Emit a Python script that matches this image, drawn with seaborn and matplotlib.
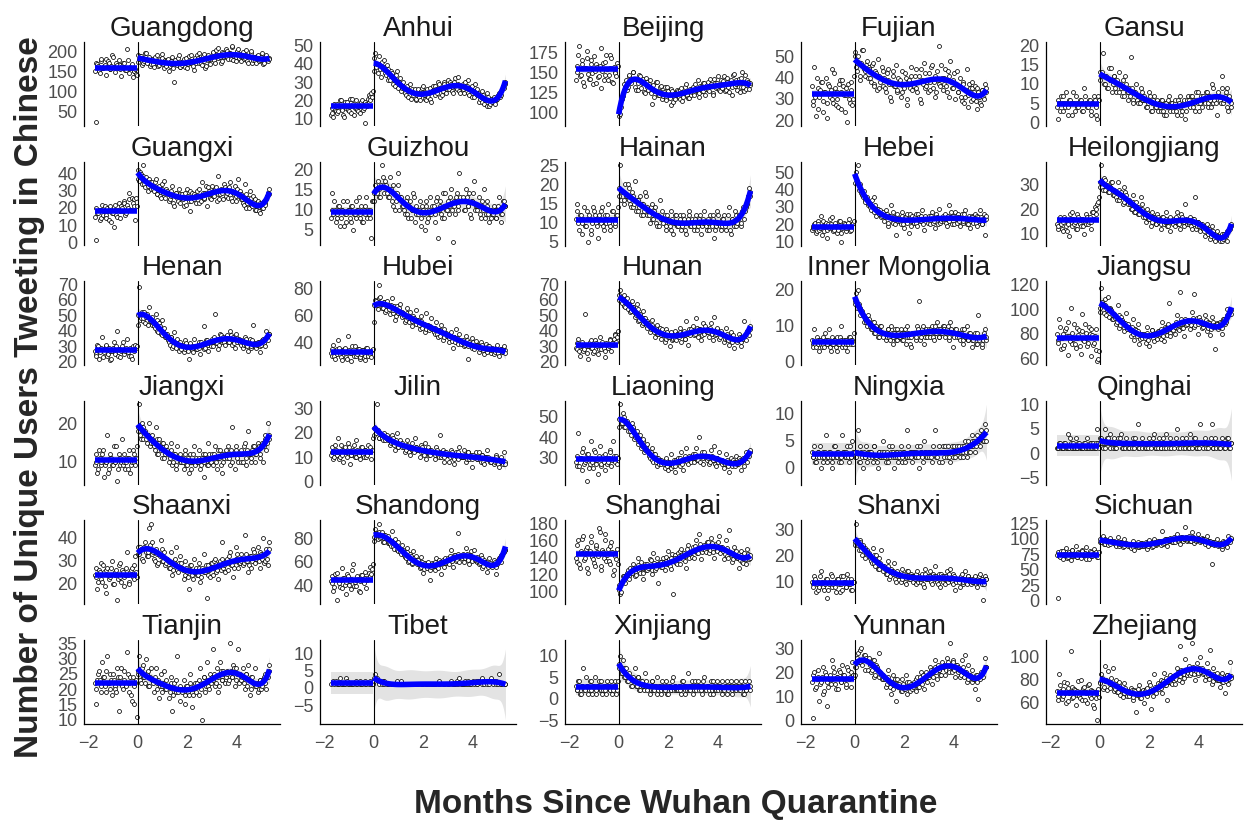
import numpy as np
import pandas as pd
import matplotlib
matplotlib.use("Agg")
import matplotlib.pyplot as plt
import seaborn as sns

# Daily counts of unique users tweeting in Chinese.
# Arrays without suffix hold one set of alternate days, the "_B" arrays the other set.
DAYS_PER_MONTH = 30.0
PRE_DAYS = np.arange(-51, 0, 2)      # before the Wuhan quarantine (23 Jan 2020)
PRE_DAYS_B = np.arange(-52, 0, 2)
POST_DAYS = np.arange(0, 162, 2)     # from the quarantine onwards
POST_DAYS_B = np.arange(1, 161, 2)
N = None  # day with no users

GUANGDONG_PRE = [22, 168, 150, 175, 158, 162, 181, 160, 170, 155, 192, 160, 160, 166, 178, 155,
                 163, 172, 152, 205, 158, 158, 168, 150, 155, 140]
GUANGDONG_PRE_B = [150, 172, 163, 145, 180, 158, 167, 140, 176, 155, 162, 185, 148, 170, 157, 165,
                   138, 172, 160, 152, 178, 145, 163, 135, 150, 144]
GUANGDONG_POST = [192, 180, 188, 170, 176, 195, 179, 186, 168,
                  182, 160, 176, 190, 165, 171, 184, 158, 175,
                  178, 150, 169, 185, 122, 172, 166, 190, 160,
                  165, 181, 172, 158, 188, 170, 176, 152, 184,
                  190, 172, 182, 165, 194, 158, 186, 178, 168,
                  180, 198, 170, 192, 208, 185, 176, 196, 188,
                  200, 182, 195, 210, 178, 193, 186, 205, 188,
                  176, 198, 184, 192, 170, 188, 200, 178, 185,
                  172, 190, 178, 186, 168, 182, 192, 175, 181]
GUANGDONG_POST_B = [174, 189, 166, 183, 197, 171, 180, 163, 177,
                    168, 185, 172, 162, 180, 194, 169, 178, 164,
                    181, 163, 175, 158, 179, 168, 184, 161, 173,
                    177, 160, 183, 168, 175, 190, 162, 178, 171,
                    183, 195, 170, 188, 176, 162, 192, 181, 187,
                    196, 178, 203, 184, 190, 172, 199, 186, 205,
                    185, 197, 180, 214, 189, 176, 200, 183, 194,
                    192, 180, 203, 175, 189, 197, 171, 186, 179,
                    188, 176, 183, 195, 170, 186, 178, 184]

ANHUI_PRE = [13, 11, 15, 18, 14, 20, 16, 12, 19, 17, 15, 21, 13, 18, 16, 20,
             14, 17, 19, 15, 8, 18, 21, 22, 24, 25]
ANHUI_PRE_B = [12, 16, 18, 14, 13, 17, 20, 15, 11, 16, 19, 14, 17, 21, 12, 16,
               15, 18, 13, 20, 16, 19, 17, 23, 20, 22]
ANHUI_POST = [36, 46, 40, 44, 37, 41, 38, 35, 39,
              37, 31, 35, 33, 28, 36, 30, 32, 27,
              30, 24, 27, 22, 29, 25, 23, 26, 21,
              26, 20, 24, 28, 21, 25, 22, 27, 19,
              28, 23, 26, 30, 22, 27, 25, 29, 24,
              31, 26, 29, 24, 30, 27, 33, 25, 28,
              29, 24, 27, 31, 23, 26, 28, 22, 25,
              26, 19, 22, 25, 18, 21, 24, 17, 20,
              19, 22, 20, 21, 24, 23, 26, 27, 30]
ANHUI_POST_B = [43, 38, 35, 40, 33, 37, 42, 34, 31,
                33, 36, 29, 31, 34, 27, 30, 25, 29,
                27, 23, 28, 25, 21, 26, 24, 20, 23,
                22, 25, 27, 23, 20, 26, 24, 21, 25,
                25, 28, 24, 29, 26, 23, 30, 27, 26,
                27, 30, 25, 28, 32, 26, 29, 24, 27,
                26, 30, 28, 24, 27, 22, 25, 29, 23,
                24, 21, 19, 23, 20, 17, 22, 18, 21,
                20, 18, 21, 23, 22, 25, 28, 29]

BEIJING_PRE = [150, 172, 145, 160, 138, 155, 168, 148, 142, 165, 135, 152, 160, 144, 158, 130,
               162, 147, 172, 140, 155, 168, 136, 150, 145, 158]
BEIJING_PRE_B = [140, 158, 183, 147, 165, 133, 155, 176, 142, 160, 149, 170, 137, 156, 145, 180,
                 151, 140, 163, 154, 147, 171, 138, 157, 149, 162]
BEIJING_POST = [104, 98, 116, 128, 132, 128, 145, 138, 142,
                150, 132, 140, 128, 145, 136, 142, 124, 138,
                128, 140, 110, 134, 126, 138, 122, 131, 125,
                120, 132, 115, 126, 118, 129, 112, 124, 121,
                126, 116, 130, 119, 124, 135, 118, 127, 122,
                132, 121, 128, 140, 124, 131, 126, 136, 129,
                138, 127, 135, 124, 142, 130, 136, 128, 140,
                130, 145, 128, 138, 125, 140, 132, 148, 135,
                128, 142, 131, 150, 126, 137, 140, 129, 136]
BEIJING_POST_B = [95, 106, 120, 135, 140, 132, 147, 136, 150,
                  141, 128, 137, 146, 130, 139, 125, 143, 131,
                  135, 124, 131, 119, 138, 127, 121, 133, 116,
                  125, 117, 131, 122, 109, 127, 120, 116, 128,
                  119, 128, 114, 124, 132, 121, 117, 129, 125,
                  124, 135, 128, 119, 133, 127, 137, 122, 134,
                  128, 141, 133, 122, 137, 131, 145, 126, 135,
                  139, 126, 143, 131, 137, 122, 146, 133, 140,
                  137, 125, 143, 132, 146, 129, 138, 134]

FUJIAN_PRE = [29, 45, 22, 35, 31, 38, 24, 33, 40, 28, 36, 34, 30, 42, 27, 33,
              37, 25, 39, 32, 35, 19, 30, 38, 27, 41]
FUJIAN_PRE_B = [36, 27, 31, 40, 25, 34, 38, 29, 33, 21, 37, 31, 44, 28, 35, 30,
                26, 39, 33, 36, 24, 32, 37, 28, 34, 30]
FUJIAN_POST = [52, 45, 50, 41, 47, 53, 43, 46, 40,
               44, 38, 47, 36, 42, 49, 35, 40, 43,
               40, 33, 44, 37, 29, 41, 36, 46, 34,
               38, 31, 43, 35, 40, 27, 39, 45, 34,
               36, 44, 33, 41, 28, 39, 47, 35, 38,
               42, 34, 46, 38, 31, 43, 55, 36, 40,
               37, 44, 33, 41, 48, 35, 39, 30, 43,
               33, 40, 29, 37, 31, 44, 26, 35, 38,
               30, 36, 25, 33, 28, 34, 31, 37, 35]
FUJIAN_POST_B = [50, 43, 47, 39, 53, 44, 41, 48, 45,
                 40, 46, 37, 43, 34, 41, 38, 45, 36,
                 35, 42, 39, 31, 37, 43, 36, 33, 40,
                 39, 33, 36, 42, 30, 38, 35, 41, 37,
                 41, 35, 38, 30, 44, 37, 42, 36, 33,
                 38, 45, 35, 41, 33, 39, 37, 46, 34,
                 40, 36, 43, 31, 38, 35, 42, 37, 33,
                 36, 31, 38, 28, 34, 32, 37, 29, 35,
                 33, 29, 35, 31, 27, 34, 30, 33]

GANSU_PRE = [1, 5, 7, 3, 5, 8, 4, 6, 5, 2, 5, 7, 4, 5, 6, 3, 9, 5, 4, 6, 3, 5, 7, 2, 1, 6]
GANSU_PRE_B = [4, 6, 3, 5, 7, 4, 5, 2, 6, 5, 8, 3, 5, 4, 6, 5, 3, 7, 5, 4, 6, 2, 5, 6, 4, 7]
GANSU_POST = [13, 12, 18, 10, 12, 9, 11, 14, 10,
              12, 8, 10, 13, 9, 11, 7, 10, 8,
              9, 17, 6, 8, 10, 5, 7, 9, 6,
              7, 4, 6, 8, 3, 5, 7, 4, 6,
              5, 3, 6, 2, 5, 4, 7, 3, 5,
              4, 6, 2, 5, 7, 3, 5, 1, 6,
              6, 4, 7, 5, 3, 6, 8, 5, 4,
              7, 5, 8, 4, 6, 10, 5, 7, 2,
              8, 6, 12, 5, 7, 9, 3, 6, 4]
GANSU_POST_B = [11, 13, 10, 12, 9, 14, 11, 8, 12,
                9, 11, 8, 10, 7, 9, 12, 8, 6,
                7, 9, 5, 8, 6, 7, 5, 8, 6,
                6, 4, 5, 7, 3, 6, 4, 5, 3,
                4, 6, 3, 5, 2, 6, 4, 5, 3,
                5, 3, 6, 4, 2, 5, 6, 3, 7,
                5, 7, 4, 6, 8, 5, 3, 7, 6,
                6, 8, 5, 7, 4, 9, 6, 5, 7,
                7, 5, 9, 6, 8, 4, 7, 5]

GUANGXI_PRE = [1, 17, 19, 14, 22, 18, 16, 20, 13, 21, 17, 9, 19, 15, 23, 18,
               20, 24, 16, 22, 29, 19, 26, 25, 13, 21]
GUANGXI_PRE_B = [15, 20, 17, 13, 19, 16, 21, 14, 18, 20, 12, 17, 22, 16, 19, 14,
                 21, 18, 23, 17, 20, 25, 19, 23, 21, 26]
GUANGXI_POST = [42, 36, 40, 45, 34, 38, 33, 37, 31,
                35, 30, 37, 28, 33, 26, 31, 36, 29,
                30, 24, 27, 33, 21, 29, 26, 31, 23,
                28, 21, 26, 31, 24, 18, 29, 25, 27,
                30, 23, 27, 35, 25, 29, 21, 32, 26,
                33, 27, 31, 24, 39, 28, 30, 25, 32,
                31, 26, 35, 24, 29, 33, 27, 37, 30,
                28, 23, 34, 20, 26, 30, 22, 27, 25,
                19, 24, 17, 21, 20, 23, 25, 29, 31]
GUANGXI_POST_B = [37, 41, 34, 39, 32, 36, 30, 35, 33,
                  31, 35, 28, 32, 27, 34, 29, 26, 31,
                  28, 25, 30, 23, 27, 29, 24, 28, 26,
                  25, 29, 22, 27, 30, 24, 26, 28, 23,
                  27, 31, 24, 29, 26, 33, 28, 30, 25,
                  30, 27, 32, 28, 25, 31, 29, 34, 27,
                  29, 32, 26, 30, 28, 24, 31, 27, 25,
                  25, 22, 28, 23, 20, 26, 21, 24, 19,
                  21, 18, 23, 20, 24, 22, 27, 28]

GUIZHOU_PRE = [14, 9, 10, 8, 11, 6, 10, 12, 9, 7, 10, 8, 11, 5, 9, 12,
               10, 8, 11, 7, 9, 13, 10, 8, 3, 12]
GUIZHOU_PRE_B = [8, 10, 12, 7, 9, 11, 8, 10, 6, 9, 12, 10, 7, 11, 9, 8,
                 10, 13, 9, 7, 10, 11, 8, 9, 10, 12]
GUIZHOU_POST = [12, 16, 14, 15, 13, 21, 16, 17, 14,
                15, 18, 12, 16, 10, 14, 19, 13, 12,
                11, 9, 13, 8, 12, 10, 14, 7, 11,
                9, 12, 6, 10, 5, 11, 8, 13, 9,
                10, 7, 12, 3, 11, 9, 14, 8, 10,
                12, 9, 15, 2, 11, 13, 10, 19, 12,
                13, 10, 15, 11, 14, 8, 12, 17, 11,
                10, 13, 8, 11, 15, 9, 12, 7, 10,
                9, 11, 8, 10, 13, 7, 9, 12, 11]
GUIZHOU_POST_B = [14, 15, 17, 13, 16, 18, 14, 16, 13,
                  13, 15, 11, 14, 12, 16, 10, 13, 11,
                  10, 12, 9, 11, 8, 10, 13, 9, 10,
                  10, 8, 11, 9, 12, 7, 10, 9, 11,
                  11, 9, 13, 10, 12, 8, 11, 14, 10,
                  11, 13, 10, 12, 9, 14, 11, 13, 12,
                  12, 10, 13, 11, 9, 12, 14, 10, 11,
                  11, 9, 12, 10, 8, 11, 9, 10, 8,
                  9, 10, 8, 11, 10, 9, 12, 11]

HAINAN_PRE = [15, 10, 12, 7, 11, 9, 13, 5, 11, 8, 14, 12, 10, 6, 11, 13,
              9, 12, 10, 15, 8, 11, 13, 9, 12, 14]
HAINAN_PRE_B = [11, 13, 8, 12, 10, 14, 9, 11, 12, 7, 10, 13, 11, 9, 12, 10,
                14, 8, 11, 12, 10, 9, 13, 11, 10, 12]
HAINAN_POST = [17, 25, 18, 16, 20, 17, 19, 15, 18,
               14, 21, 16, 13, 17, 15, 12, 18, 14,
               13, 10, 15, 11, 14, 9, 12, 16, 11,
               10, 12, 8, 11, 9, 13, 7, 10, 12,
               9, 11, 8, 12, 10, 7, 11, 13, 9,
               10, 8, 12, 9, 11, 7, 10, 13, 9,
               11, 8, 10, 12, 6, 9, 13, 10, 8,
               9, 12, 8, 10, 14, 7, 11, 9, 12,
               10, 12, 9, 13, 11, 14, 15, 19, 17]
HAINAN_POST_B = [19, 16, 18, 15, 17, 20, 16, 14, 17,
                 15, 13, 16, 14, 12, 15, 13, 17, 12,
                 12, 14, 11, 13, 10, 12, 9, 11, 13,
                 11, 9, 12, 10, 8, 11, 10, 12, 9,
                 10, 12, 9, 11, 8, 10, 12, 9, 11,
                 9, 11, 8, 10, 12, 9, 11, 10, 8,
                 10, 12, 9, 11, 8, 10, 12, 9, 11,
                 11, 9, 10, 12, 8, 11, 10, 13, 9,
                 11, 12, 10, 14, 13, 15, 17, 18]

HEBEI_PRE = [18, 20, 15, 22, 17, 25, 19, 16, 21, 12, 18, 20, 24, 17, 19, 15,
             22, 10, 18, 21, 16, 19, 23, 17, 20, 22]
HEBEI_PRE_B = [17, 19, 21, 16, 20, 18, 14, 22, 19, 17, 20, 23, 18, 16, 21, 19,
               17, 22, 15, 19, 20, 18, 21, 16, 19, 21]
HEBEI_POST = [44, 50, 54, 41, 38, 36, 34, 35, 31,
              33, 28, 30, 36, 25, 29, 27, 24, 26,
              22, 28, 19, 25, 31, 21, 24, 14, 26,
              23, 20, 27, 18, 24, 26, 15, 22, 25,
              21, 26, 19, 24, 22, 28, 17, 25, 23,
              25, 20, 27, 22, 18, 24, 29, 21, 23,
              22, 26, 19, 31, 24, 20, 25, 27, 21,
              24, 19, 26, 22, 28, 20, 23, 18, 25,
              21, 26, 19, 24, 28, 20, 23, 14, 25]
HEBEI_POST_B = [48, 45, 40, 43, 37, 39, 33, 36, 32,
                30, 34, 27, 31, 29, 26, 28, 25, 27,
                24, 26, 21, 25, 23, 27, 20, 24, 22,
                22, 25, 20, 24, 21, 23, 26, 19, 23,
                24, 21, 26, 22, 25, 20, 24, 23, 21,
                22, 25, 21, 24, 26, 20, 23, 22, 25,
                23, 21, 25, 22, 27, 24, 20, 23, 26,
                22, 24, 21, 26, 23, 20, 25, 22, 24,
                23, 21, 25, 22, 24, 20, 26, 23]

HEILONGJIANG_PRE = [12, 16, 14, 11, 17, 13, 15, 9, 16, 19, 14, 12, 18, 15, 13, 16,
                    10, 14, 17, 15, 12, 19, 16, 20, 22, 25]
HEILONGJIANG_PRE_B = [14, 13, 17, 12, 15, 16, 11, 14, 18, 13, 16, 15, 12, 17, 14, 16,
                      13, 15, 18, 14, 17, 15, 19, 21, 18, 23]
HEILONGJIANG_POST = [29, 38, 28, 32, 30, 27, 29, 31, 26,
                     28, 25, 31, 24, 27, 22, 29, 26, 23,
                     24, 20, 26, 19, 23, 21, 18, 25, 20,
                     18, 15, 20, 16, 13, 19, 17, 14, 18,
                     15, 12, 17, 14, 19, 13, 16, 11, 15,
                     16, 13, 19, 14, 12, 17, 15, 22, 14,
                     14, 17, 12, 16, 25, 13, 15, 11, 14,
                     12, 9, 14, 11, 8, 13, 10, 7, 11,
                     9, 7, 10, 8, 9, 7, 11, 12, 13]
HEILONGJIANG_POST_B = [31, 29, 33, 28, 30, 27, 29, 31, 26,
                       27, 24, 28, 25, 26, 23, 27, 24, 22,
                       22, 20, 23, 19, 21, 18, 20, 22, 17,
                       17, 19, 16, 18, 15, 17, 16, 14, 17,
                       16, 14, 17, 15, 16, 13, 17, 15, 14,
                       15, 17, 14, 16, 18, 15, 13, 16, 15,
                       15, 13, 16, 14, 12, 15, 13, 14, 12,
                       11, 13, 10, 12, 9, 11, 8, 10, 9,
                       8, 9, 7, 10, 9, 11, 12, 14]

HENAN_PRE = [25, 31, 22, 28, 36, 26, 30, 24, 29, 21, 27, 33, 25, 40, 28, 23,
             30, 26, 27, 35, 24, 29, 22, 28, 31, 30]
HENAN_PRE_B = [27, 24, 30, 26, 29, 23, 28, 31, 25, 27, 22, 29, 26, 30, 24, 28,
               27, 33, 25, 29, 26, 28, 24, 30, 27, 29]
HENAN_POST = [44, 68, 48, 46, 52, 49, 44, 55, 46,
              49, 43, 51, 40, 45, 38, 47, 42, 36,
              38, 33, 36, 29, 39, 31, 35, 27, 33,
              31, 26, 34, 29, 22, 32, 28, 35, 30,
              28, 33, 25, 31, 43, 29, 34, 27, 32,
              35, 30, 51, 32, 28, 38, 33, 36, 31,
              37, 33, 40, 31, 36, 29, 38, 34, 32,
              34, 29, 36, 31, 27, 35, 30, 44, 32,
              29, 33, 26, 31, 35, 30, 40, 34, 38]
HENAN_POST_B = [50, 47, 52, 48, 45, 51, 49, 46, 44,
                45, 42, 47, 39, 43, 37, 41, 36, 38,
                34, 31, 36, 30, 33, 29, 32, 30, 28,
                30, 28, 32, 27, 31, 29, 26, 30, 28,
                31, 29, 33, 30, 28, 34, 31, 32, 30,
                33, 36, 32, 35, 31, 37, 34, 33, 36,
                35, 33, 37, 34, 32, 36, 33, 35, 31,
                33, 31, 35, 30, 32, 29, 34, 31, 30,
                31, 33, 30, 34, 32, 35, 36, 38]

HUBEI_PRE = [30, 38, 28, 35, 42, 31, 27, 34, 36, 29, 45, 32, 26, 33, 37, 30,
             35, 28, 31, 34, 27, 36, 30, 32, 29, 35]
HUBEI_PRE_B = [32, 35, 30, 34, 31, 36, 29, 33, 35, 31, 28, 34, 32, 37, 30, 33,
               31, 35, 29, 34, 32, 30, 36, 33, 31, 34]
HUBEI_POST = [55, 72, 68, 83, 74, 66, 70, 63, 71,
              68, 61, 73, 64, 57, 67, 62, 69, 59,
              62, 55, 66, 58, 63, 52, 60, 56, 64,
              57, 50, 60, 54, 48, 62, 53, 51, 58,
              51, 46, 55, 44, 49, 53, 42, 50, 47,
              45, 40, 48, 36, 44, 50, 41, 46, 39,
              42, 37, 45, 28, 40, 38, 43, 35, 41,
              38, 33, 40, 36, 31, 39, 35, 37, 32,
              36, 31, 34, 38, 30, 35, 33, 37, 32]
HUBEI_POST_B = [68, 71, 65, 73, 69, 66, 70, 64, 68,
                65, 68, 62, 67, 60, 64, 66, 61, 63,
                60, 57, 62, 55, 59, 56, 58, 54, 57,
                53, 56, 51, 54, 50, 53, 49, 52, 50,
                48, 51, 46, 49, 45, 48, 44, 47, 45,
                43, 46, 41, 44, 40, 43, 39, 42, 40,
                40, 38, 42, 37, 39, 36, 40, 37, 38,
                37, 35, 38, 34, 36, 33, 37, 35, 34,
                35, 33, 36, 32, 34, 35, 33, 34]

HUNAN_PRE = [28, 35, 24, 31, 27, 51, 30, 22, 33, 29, 26, 34, 31, 25, 36, 28,
             30, 23, 32, 29, 35, 27, 31, 38, 33, 40]
HUNAN_PRE_B = [29, 32, 27, 30, 33, 28, 31, 26, 30, 34, 29, 27, 32, 30, 28, 31,
               33, 29, 27, 31, 30, 34, 32, 35, 37, 36]
HUNAN_POST = [60, 66, 58, 63, 55, 61, 57, 52, 59,
              55, 49, 57, 46, 51, 44, 53, 48, 42,
              45, 39, 47, 41, 36, 44, 38, 42, 35,
              38, 33, 41, 36, 30, 39, 35, 40, 34,
              37, 42, 33, 39, 35, 46, 31, 38, 41,
              43, 37, 48, 36, 41, 34, 45, 38, 40,
              41, 36, 45, 34, 49, 38, 42, 35, 40,
              38, 33, 42, 35, 31, 39, 36, 29, 34,
              33, 38, 30, 36, 46, 34, 40, 37, 43]
HUNAN_POST_B = [63, 59, 61, 56, 58, 54, 57, 53, 55,
                52, 50, 54, 47, 49, 45, 48, 44, 46,
                43, 41, 44, 39, 42, 38, 40, 37, 41,
                37, 35, 39, 36, 38, 34, 37, 35, 38,
                36, 39, 37, 40, 35, 38, 41, 37, 39,
                40, 38, 42, 39, 41, 37, 40, 43, 39,
                39, 42, 38, 40, 37, 41, 39, 36, 38,
                37, 35, 38, 34, 36, 33, 37, 35, 34,
                34, 36, 33, 35, 37, 38, 40, 41]

INNER_MONGOLIA_PRE = [5, 9, 4, 6, 3, 5, 7, 4, 6, 5, 9, 3, 5, 6, 4, 7,
                      5, 10, 4, 6, 5, 3, 7, 5, 6, 8]
INNER_MONGOLIA_PRE_B = [6, 4, 5, 7, 5, 6, 4, 5, 8, 5, 6, 4, 7, 5, 6, 3,
                        5, 7, 6, 5, 4, 6, 5, 7, 6, 5]
INNER_MONGOLIA_POST = [16, 19, 20, 15, 14, 13, 12, 11, 13,
                       12, 9, 11, 8, 10, 7, 9, 10, 8,
                       8, 6, 9, 7, 10, 5, 8, 6, 9,
                       7, 9, 6, 8, 5, 10, 7, 4, 8,
                       8, 6, 10, 17, 7, 9, 5, 8, 7,
                       9, 7, 10, 6, 8, 11, 7, 9, 8,
                       10, 7, 9, 6, 11, 8, 4, 9, 7,
                       8, 6, 9, 5, 7, 10, 6, 8, 4,
                       6, 8, 5, 13, 7, 4, 6, 9, 7]
INNER_MONGOLIA_POST_B = [17, 15, 16, 13, 14, 11, 12, 10, 11,
                         10, 9, 11, 8, 9, 7, 10, 8, 7,
                         8, 7, 9, 6, 8, 7, 9, 6, 8,
                         7, 8, 6, 9, 7, 8, 5, 7, 8,
                         8, 7, 9, 6, 8, 10, 7, 9, 8,
                         8, 9, 7, 10, 8, 9, 7, 8, 10,
                         9, 8, 10, 7, 9, 8, 7, 9, 8,
                         7, 8, 6, 9, 7, 6, 8, 7, 6,
                         7, 5, 8, 6, 7, 5, 8, 6]

JIANGSU_PRE = [75, 92, 68, 80, 71, 85, 63, 78, 101, 72, 88, 69, 77, 83, 64, 96,
               74, 81, 70, 86, 62, 79, 73, 84, 58, 66]
JIANGSU_PRE_B = [80, 73, 86, 77, 69, 83, 78, 90, 74, 81, 76, 72, 85, 79, 70, 82,
                 75, 88, 77, 73, 80, 84, 71, 78, 67, 60]
JIANGSU_POST = [98, 117, 104, 108, 95, 110, 101, 99, 92,
                96, 88, 103, 85, 94, 90, 82, 97, 86,
                86, 78, 92, 75, 83, 88, 72, 80, 77,
                80, 73, 86, 70, 79, 83, 74, 81, 76,
                82, 76, 90, 74, 85, 79, 105, 78, 84,
                87, 80, 95, 83, 114, 85, 78, 92, 88,
                90, 84, 98, 112, 87, 93, 80, 91, 85,
                88, 95, 82, 90, 79, 94, 86, 68, 89,
                84, 90, 80, 92, 88, 100, 95, 97, 96]
JIANGSU_POST_B = [101, 106, 97, 103, 99, 94, 100, 92, 96,
                  93, 90, 95, 87, 91, 85, 89, 84, 88,
                  83, 86, 80, 84, 78, 82, 76, 80, 79,
                  77, 81, 75, 79, 83, 77, 80, 78, 82,
                  80, 84, 78, 86, 82, 88, 81, 85, 83,
                  86, 90, 84, 88, 92, 85, 89, 87, 91,
                  90, 87, 93, 86, 91, 88, 94, 89, 86,
                  88, 91, 85, 89, 84, 90, 87, 86, 88,
                  86, 89, 85, 92, 90, 95, 97, 99]

JIANGXI_PRE = [10, 7, 13, 9, 12, 6, 10, 17, 8, 11, 9, 14, 10, 5, 12, 9,
               16, 10, 8, 11, 13, 7, 10, 12, 9, 14]
JIANGXI_PRE_B = [9, 12, 8, 11, 10, 13, 9, 10, 7, 12, 11, 9, 10, 14, 8, 11,
                 10, 9, 12, 10, 8, 11, 9, 13, 10, 11]
JIANGXI_POST = [18, 25, 16, 19, 18, 16, 17, 20, 15,
                17, 14, 19, 12, 16, 13, 15, 11, 14,
                13, 10, 15, 9, 12, 8, 14, 11, 10,
                11, 8, 13, 9, 7, 12, 10, 14, 9,
                10, 13, 8, 11, 6, 12, 9, 15, 10,
                12, 9, 14, 8, 11, 13, 7, 10, 12,
                11, 14, 9, 19, 12, 8, 13, 10, 12,
                13, 10, 15, 9, 18, 12, 11, 14, 10,
                12, 15, 11, 14, 10, 17, 13, 20, 16]
JIANGXI_POST_B = [19, 17, 20, 16, 18, 15, 17, 14, 16,
                  15, 13, 16, 12, 14, 11, 15, 12, 13,
                  12, 11, 13, 10, 12, 9, 11, 12, 10,
                  10, 12, 9, 11, 10, 8, 12, 10, 11,
                  10, 11, 9, 12, 10, 11, 9, 12, 10,
                  11, 12, 10, 13, 11, 9, 12, 11, 13,
                  12, 11, 13, 10, 12, 14, 11, 12, 10,
                  12, 14, 11, 13, 12, 10, 13, 14, 12,
                  13, 14, 12, 15, 14, 16, 15, 17]

JILIN_PRE = [12, 9, 15, 11, 18, 10, 13, 8, 14, 12, 16, 7, 11, 13, 10, 17,
             12, 9, 14, 11, 13, 10, 15, 12, 9, 18]
JILIN_PRE_B = [11, 14, 10, 13, 12, 9, 15, 11, 13, 12, 10, 14, 11, 12, 15, 10,
               13, 11, 12, 14, 10, 13, 11, 12, 14, 13]
JILIN_POST = [19, 22, 32, 18, 20, 18, 19, 17, 19,
              18, 15, 19, 16, 13, 20, 14, 17, 16,
              15, 12, 17, 14, 11, 16, 13, 18, 14,
              13, 10, 15, 12, 16, 9, 14, 11, 13,
              12, 9, 14, 11, 19, 10, 13, 8, 12,
              11, 8, 13, 10, 7, 12, 9, 14, 10,
              10, 13, 8, 12, 9, 11, 6, 10, 12,
              9, 12, 8, 11, 7, 10, 13, 9, 8,
              9, 7, 11, 8, 6, 10, 8, 12, 7]
JILIN_POST_B = [22, 20, 21, 18, 19, 17, 20, 18, 17,
                17, 16, 18, 15, 17, 14, 16, 15, 14,
                14, 13, 15, 12, 14, 13, 12, 14, 13,
                13, 12, 14, 11, 13, 12, 11, 13, 12,
                12, 11, 13, 10, 12, 11, 10, 12, 11,
                11, 10, 12, 9, 11, 10, 12, 11, 10,
                10, 11, 9, 12, 10, 9, 11, 10, 9,
                10, 9, 11, 8, 10, 9, 10, 8, 9,
                9, 8, 10, 7, 9, 8, 7, 8]

LIAONING_PRE = [26, 42, 30, 24, 35, 28, 19, 32, 27, 38, 25, 33, 29, 22, 36, 27,
                31, 24, 30, 28, 34, 26, 38, 29, 31, 30]
LIAONING_PRE_B = [28, 31, 26, 30, 33, 27, 29, 32, 25, 30, 28, 34, 27, 29, 31, 26,
                  30, 28, 32, 27, 30, 33, 29, 31, 28, 27]
LIAONING_POST = [45, 56, 47, 50, 45, 48, 46, 43, 47,
                 45, 40, 43, 38, 41, 36, 39, 34, 37,
                 33, 30, 35, 28, 32, 26, 30, 29, 27,
                 28, 25, 30, 24, 27, 32, 26, 23, 29,
                 30, 26, 33, 24, 29, 35, 27, 31, 28,
                 32, 28, 35, 29, 40, 31, 27, 33, 30,
                 31, 27, 34, 29, 36, 26, 30, 33, 28,
                 29, 25, 32, 27, 23, 30, 26, 28, 31,
                 27, 30, 24, 29, 26, 33, 28, 31, 34]
LIAONING_POST_B = [49, 47, 52, 45, 48, 43, 46, 41, 44,
                   39, 42, 37, 40, 35, 38, 33, 36, 34,
                   31, 33, 29, 32, 28, 30, 27, 29, 28,
                   27, 29, 26, 28, 25, 27, 29, 26, 28,
                   28, 30, 27, 29, 31, 28, 30, 29, 31,
                   30, 32, 29, 31, 28, 33, 30, 31, 29,
                   30, 28, 31, 29, 27, 30, 28, 29, 27,
                   28, 27, 29, 26, 28, 27, 29, 26, 28,
                   27, 29, 28, 30, 29, 31, 32, 33]

NINGXIA_PRE = [2, 4, 1, 3, 2, 0, 3, 2, 6, 1, 3, 2, 0, 4, 2, 3, 1, 2, 6, 3, 2, 4, 1, 2, 5, 3]
NINGXIA_PRE_B = [3, 2, 1, 2, 3, 4, 2, 1, 3, 2, 2, 3, 1, 2, 4, 2, 3, 2, 1, 3, 2, 3, 2, 4, 2, 3]
NINGXIA_POST = [3, 2, 7, 1, 3, 0, 2, 4, 3,
                2, 3, 1, 4, 2, 0, 3, 2, 5,
                3, 1, 2, 4, 3, 2, 0, 3, 2,
                2, 4, 1, 3, 2, 7, 2, 3, 1,
                3, 2, 4, 0, 3, 2, 5, 3, 2,
                2, 3, 1, 3, 7, 2, 4, 3, 1,
                3, 4, 2, 3, 1, 4, 3, 2, 4,
                3, 2, 4, 3, 5, 2, 4, 3, 6,
                4, 3, 5, 5, 4, 6, 5, 8, 5]
NINGXIA_POST_B = [2, 3, 1, 4, 2, 3, 2, 1, 3,
                  3, 2, 4, 2, 1, 3, 2, 3, 2,
                  2, 3, 1, 2, 4, 3, 2, 3, 1,
                  3, 2, 3, 1, 2, 4, 3, 2, 3,
                  2, 3, 2, 4, 3, 1, 3, 2, 3,
                  3, 2, 4, 3, 2, 3, 1, 3, 4,
                  2, 3, 4, 2, 3, 2, 4, 3, 3,
                  4, 3, 2, 4, 3, 5, 3, 4, 5,
                  5, 4, 6, 5, 7, 6, 5, 7]

QINGHAI_PRE = [1, 2, 1, 1, 2, 1, 4, 1, 2, 1, 1, 3, 1, 2, 1, 1, 2, 1, 3, 1, 2, 1, 1, 2, 5, 1]
QINGHAI_PRE_B = [1, 1, 2, 1, 1, 2, 1, 1, 3, 1, 2, 1, 1, 2, 1, 1, 1, 2, 1, 1, 2, 1, 2, 1, 1, 2]
QINGHAI_POST = [2, 3, 1, 5, 2, 3, 4, 2, 1,
                2, 1, 3, 2, 4, 1, 2, 3, 2,
                1, 2, 3, 1, 2, 6, 1, 2, 3,
                2, 1, 2, 3, 1, 2, 4, 1, 2,
                3, 1, 2, 1, 4, 2, 1, 3, 2,
                1, 2, 5, 2, 1, 3, 2, 1, 2,
                2, 4, 1, 2, 3, 1, 2, 6, 2,
                1, 3, 2, 1, 2, 6, 1, 3, 2,
                2, 1, 3, 2, 1, 2, 3, 1, 2]
QINGHAI_POST_B = [3, 2, 2, 1, 3, 2, 1, 2, 3,
                  1, 2, 2, 3, 1, 2, 1, 2, 1,
                  2, 1, 2, 3, 2, 1, 2, 1, 2,
                  1, 2, 1, 2, 2, 3, 1, 2, 1,
                  2, 1, 3, 2, 1, 2, 2, 1, 2,
                  2, 3, 1, 2, 2, 1, 2, 3, 1,
                  1, 2, 2, 3, 1, 2, 1, 2, 2,
                  2, 1, 2, 2, 3, 1, 2, 1, 2,
                  1, 2, 2, 1, 2, 3, 1, 2]

SHAANXI_PRE = [23, 18, 26, 29, 21, 25, 16, 27, 22, 24, 30, 20, 25, 13, 28, 23,
               26, 19, 24, 34, 21, 25, 27, 22, 32, 23]
SHAANXI_PRE_B = [24, 27, 21, 25, 22, 28, 19, 26, 24, 23, 27, 20, 24, 26, 22, 29,
                 21, 25, 23, 27, 24, 20, 26, 23, 28, 25]
SHAANXI_POST = [36, 33, 35, 30, 36, 34, 32, 44, 46,
                38, 31, 35, 28, 33, 39, 30, 34, 29,
                31, 27, 34, 24, 30, 36, 26, 29, 32,
                27, 22, 30, 25, 18, 28, 24, 31, 26,
                24, 29, 21, 27, 33, 25, 14, 28, 23,
                29, 24, 31, 26, 22, 30, 38, 27, 25,
                31, 26, 34, 28, 23, 30, 36, 27, 29,
                33, 28, 41, 30, 25, 32, 27, 35, 29,
                31, 36, 27, 33, 40, 30, 35, 28, 38]
SHAANXI_POST_B = [33, 36, 31, 35, 38, 32, 34, 37, 33,
                  34, 30, 33, 29, 32, 35, 30, 28, 31,
                  30, 27, 29, 26, 31, 28, 25, 27, 29,
                  26, 24, 27, 23, 26, 28, 22, 25, 27,
                  24, 27, 23, 26, 25, 28, 24, 26, 29,
                  27, 30, 25, 28, 29, 26, 31, 28, 30,
                  29, 32, 28, 30, 27, 31, 33, 29, 30,
                  31, 29, 33, 30, 28, 32, 30, 34, 31,
                  32, 30, 34, 31, 29, 33, 31, 35]

SHANDONG_PRE = [42, 36, 50, 28, 45, 39, 55, 47, 41, 33, 48, 44, 37, 58, 43, 40,
                46, 35, 49, 44, 52, 38, 47, 56, 50, 58]
SHANDONG_PRE_B = [44, 48, 39, 46, 51, 42, 45, 38, 47, 43, 50, 41, 46, 53, 40, 45,
                  48, 36, 44, 49, 42, 47, 45, 51, 48, 54]
SHANDONG_POST = [78, 88, 84, 92, 80, 85, 77, 83, 79,
                 82, 75, 86, 73, 79, 70, 77, 68, 74,
                 70, 64, 72, 60, 67, 58, 69, 62, 65,
                 62, 55, 64, 51, 59, 57, 60, 45, 56,
                 58, 53, 63, 55, 60, 50, 62, 56, 59,
                 63, 58, 70, 56, 66, 61, 84, 60, 64,
                 67, 60, 72, 63, 58, 69, 64, 70, 61,
                 64, 58, 66, 55, 62, 60, 52, 63, 57,
                 56, 62, 50, 58, 63, 60, 66, 68, 70]
SHANDONG_POST_B = [81, 83, 79, 85, 81, 77, 83, 80, 76,
                   76, 73, 78, 71, 75, 69, 72, 67, 70,
                   66, 63, 68, 61, 65, 59, 63, 60, 58,
                   58, 56, 60, 54, 58, 55, 57, 53, 59,
                   57, 60, 56, 62, 58, 61, 59, 63, 60,
                   62, 65, 61, 64, 66, 62, 67, 64, 63,
                   65, 63, 67, 62, 66, 61, 64, 62, 60,
                   61, 59, 63, 57, 60, 58, 56, 59, 57,
                   58, 60, 56, 62, 64, 66, 68, 70]

SHANGHAI_PRE = [135, 160, 128, 145, 165, 140, 152, 122, 148, 165, 138, 130, 155, 142, 170, 126,
                147, 168, 136, 150, 132, 158, 120, 145, 138, 132]
SHANGHAI_PRE_B = [140, 155, 132, 148, 162, 137, 150, 128, 145, 158, 141, 134, 152, 146, 175, 130,
                  149, 139, 160, 143, 136, 154, 147, 125, 142, 150]
SHANGHAI_POST = [102, 98, 112, 118, 110, 122, 118, 128, 122,
                 132, 118, 127, 140, 122, 128, 115, 133, 125,
                 128, 138, 121, 145, 126, 132, 110, 135, 129,
                 140, 125, 136, 148, 130, 139, 98, 143, 134,
                 145, 133, 150, 138, 142, 128, 155, 140, 146,
                 152, 140, 160, 145, 168, 138, 150, 155, 147,
                 158, 145, 163, 150, 140, 156, 148, 165, 152,
                 150, 138, 160, 142, 172, 145, 135, 152, 148,
                 140, 128, 148, 135, 145, 132, 150, 138, 143]
SHANGHAI_POST_B = [108, 100, 118, 112, 120, 126, 115, 124, 128,
                   127, 120, 131, 124, 135, 122, 129, 126, 133,
                   130, 137, 126, 134, 128, 139, 131, 135, 129,
                   135, 141, 132, 138, 127, 144, 136, 140, 133,
                   142, 148, 139, 145, 136, 150, 143, 147, 141,
                   148, 153, 145, 151, 156, 147, 152, 149, 158,
                   153, 149, 157, 146, 154, 150, 158, 145, 152,
                   148, 144, 151, 140, 147, 143, 138, 146, 141,
                   140, 137, 143, 134, 141, 138, 144, 140]

SHANXI_PRE = [9, 12, 6, 10, 8, 14, 9, 7, 11, 4, 9, 13, 8, 10, 6, 11,
              9, 12, 7, 10, 8, 13, 9, 11, 7, 10]
SHANXI_PRE_B = [10, 8, 11, 9, 7, 12, 10, 8, 9, 11, 7, 10, 12, 9, 8, 10,
                11, 6, 9, 12, 10, 8, 11, 9, 7, 10]
SHANXI_POST = [25, 32, 24, 26, 22, 24, 23, 21, 21,
               21, 18, 23, 17, 20, 15, 19, 22, 16,
               16, 13, 18, 11, 15, 14, 17, 10, 13,
               13, 10, 15, 12, 9, 14, 11, 13, 12,
               12, 9, 14, 11, 10, 13, 8, 15, 11,
               11, 14, 9, 12, 16, 10, 13, 8, 12,
               12, 9, 14, 11, 15, 10, 13, 7, 11,
               11, 8, 13, 10, 14, 9, 12, 10, 11,
               10, 12, 8, 11, 13, 9, 3, 12, 11]
SHANXI_POST_B = [24, 26, 22, 25, 20, 23, 19, 22, 20,
                 19, 17, 20, 16, 18, 15, 17, 16, 14,
                 15, 13, 16, 12, 14, 13, 11, 14, 12,
                 12, 11, 13, 10, 12, 14, 11, 12, 10,
                 11, 13, 10, 12, 11, 9, 13, 11, 12,
                 12, 10, 13, 11, 12, 9, 11, 13, 10,
                 11, 12, 10, 13, 11, 9, 12, 10, 11,
                 10, 12, 9, 11, 10, 12, 11, 9, 10,
                 11, 9, 10, 12, 10, 11, 9, 11]

SICHUAN_PRE = [5, 72, 80, 68, 76, 85, 70, 78, 65, 82, 74, 88, 71, 77, 69, 80,
               73, 86, 75, 67, 79, 72, 83, 76, 70, 78]
SICHUAN_PRE_B = [74, 78, 71, 76, 80, 73, 69, 77, 75, 82, 72, 76, 70, 79, 74, 81,
                 73, 77, 68, 75, 80, 72, 76, 74, 79, 71]
SICHUAN_POST = [100, 95, 104, 92, 98, 90, 101, 96, 94,
                97, 88, 102, 91, 95, 86, 99, 93, 90,
                92, 85, 96, 82, 90, 94, 87, 93, 88,
                89, 95, 84, 98, 91, 86, 100, 90, 93,
                97, 90, 113, 93, 99, 88, 96, 101, 94,
                102, 95, 108, 97, 92, 103, 99, 118, 96,
                104, 96, 110, 93, 100, 98, 107, 95, 101,
                99, 92, 104, 88, 97, 60, 95, 91, 100,
                88, 93, 84, 96, 90, 87, 105, 95, 101]
SICHUAN_POST_B = [95, 98, 92, 100, 94, 97, 91, 96, 93,
                  92, 95, 89, 94, 90, 88, 93, 91, 89,
                  88, 91, 86, 90, 92, 87, 89, 93, 90,
                  90, 93, 88, 92, 95, 89, 94, 91, 96,
                  94, 97, 92, 99, 95, 100, 96, 98, 94,
                  98, 101, 96, 100, 103, 97, 99, 102, 98,
                  100, 97, 103, 98, 96, 101, 99, 97, 100,
                  96, 99, 93, 97, 92, 95, 90, 94, 92,
                  90, 92, 88, 94, 91, 95, 97, 99]

TIANJIN_PRE = [15, 23, 26, 21, 29, 24, 19, 31, 22, 25, 18, 23, 20, 27, 13, 24,
               21, 26, 22, 32, 19, 24, 16, 15, 22, 11]
TIANJIN_PRE_B = [22, 20, 25, 23, 19, 24, 21, 26, 22, 20, 23, 25, 21, 19, 24, 22,
                 27, 20, 23, 21, 25, 22, 18, 24, 21, 23]
TIANJIN_POST = [25, 31, 22, 28, 24, 30, 26, 21, 27,
                23, 19, 27, 22, 17, 25, 21, 26, 20,
                21, 17, 24, 13, 22, 19, 31, 20, 16,
                19, 23, 15, 21, 18, 25, 14, 20, 22,
                22, 18, 27, 10, 24, 19, 29, 21, 25,
                24, 33, 21, 27, 19, 29, 23, 26, 22,
                26, 22, 35, 24, 28, 21, 27, 33, 25,
                23, 27, 20, 25, 28, 18, 24, 22, 27,
                21, 19, 23, 20, 23, 25, 20, 24, 28]
TIANJIN_POST_B = [26, 23, 27, 24, 22, 25, 21, 24, 23,
                  22, 24, 20, 23, 21, 19, 22, 20, 23,
                  21, 19, 22, 18, 20, 23, 19, 21, 20,
                  20, 18, 21, 19, 22, 20, 18, 21, 19,
                  21, 23, 20, 22, 24, 21, 23, 20, 22,
                  23, 25, 22, 24, 21, 26, 23, 25, 24,
                  25, 23, 26, 24, 27, 23, 25, 22, 24,
                  24, 22, 25, 21, 23, 20, 24, 22, 21,
                  22, 20, 23, 21, 24, 22, 25, 26]

TIBET_PRE = [N, 2, N, 1, 1, 3, 1, N, 1, 3, 1, N, 1, 1, N, 1,
             N, 2, 1, N, 1, 1, N, 2, 1, 1]
TIBET_PRE_B = [1, N, 1, 2, N, 1, N, 1, 1, N, 2, 1, N, 1, N, 2,
               1, N, 1, 1, N, 2, N, 1, N, 1]
TIBET_POST = [2, 4, 3, N, 2, 1, 2, N, 1,
              1, N, 1, 1, N, 2, N, 1, 1,
              N, 1, N, 1, 1, N, 1, N, 1,
              1, N, N, 1, N, 1, 1, N, N,
              1, 1, N, 1, N, N, 1, 1, N,
              1, N, 2, N, 1, 1, N, 3, 1,
              N, 1, 1, 2, N, 1, N, 1, 2,
              1, 2, N, 3, 1, N, 2, 1, 3,
              N, 2, 1, N, 4, 1, N, 1, 1]
TIBET_POST_B = [3, N, 2, 1, N, 2, 1, N, 1,
                N, 1, 1, N, 1, N, 1, 2, N,
                1, N, 1, N, 1, 1, N, 1, N,
                N, 1, 1, N, 1, N, N, 1, 1,
                N, 1, N, 2, 1, N, 1, N, 1,
                1, N, 1, 1, N, 2, 1, N, 1,
                1, 2, N, 1, 1, N, 2, N, 1,
                2, N, 1, 2, N, 1, 2, N, 2,
                1, N, 2, 1, N, 1, N, 1]

XINJIANG_PRE = [2, 4, 1, 3, 7, 2, 3, 1, 4, 2, 3, 5, 1, 3, 2, 4, 2, 3, 1, 3, 2, 4, 2, 3, 1, 4]
XINJIANG_PRE_B = [3, 2, 4, 1, 3, 2, 5, 3, 2, 4, 1, 3, 2, 3, 4, 2, 1, 3, 2, 4, 3, 2, 1, 3, 4, 2]
XINJIANG_POST = [7, 10, 6, 7, 5, 4, 5, 5, 3,
                 4, 7, 3, 5, 2, 4, 3, 6, 2,
                 3, 1, 4, 2, 3, 5, 2, 3, 1,
                 3, 2, 4, 1, 3, 2, 5, 3, 2,
                 2, 3, 1, 4, 2, 3, 6, 2, 3,
                 1, 3, 2, 4, 3, 2, 3, 5, 2,
                 3, 2, 4, 1, 3, 2, 4, 3, 2,
                 4, 2, 3, 1, 3, 4, 2, 3, 2,
                 3, 2, 4, 3, 1, 2, 3, 4, 3]
XINJIANG_POST_B = [8, 6, 9, 5, 7, 4, 6, 3, 5,
                   4, 3, 5, 2, 4, 3, 2, 4, 3,
                   3, 2, 4, 2, 3, 1, 3, 2, 4,
                   2, 3, 1, 3, 2, 4, 2, 3, 2,
                   3, 2, 4, 3, 1, 2, 3, 2, 4,
                   2, 4, 3, 2, 3, 1, 4, 2, 3,
                   3, 1, 2, 4, 2, 3, 2, 3, 1,
                   2, 3, 4, 2, 3, 1, 3, 2, 4,
                   3, 2, 3, 1, 4, 2, 3, 2]

YUNNAN_PRE = [1, 20, 14, 18, 8, 16, 22, 12, 19, 6, 17, 15, 25, 20, 13, 18,
              21, 16, 23, 19, 14, 22, 17, 20, 24, 18]
YUNNAN_PRE_B = [16, 19, 13, 17, 21, 15, 18, 11, 20, 16, 14, 19, 17, 22, 15, 18,
                13, 20, 16, 19, 17, 15, 21, 18, 14, 19]
YUNNAN_POST = [19, 22, 28, 24, 30, 25, 27, 26, 21,
               26, 20, 25, 18, 23, 21, 28, 19, 17,
               18, 14, 21, 16, 11, 19, 15, 8, 17,
               15, 12, 17, 13, 19, 11, 16, 14, 13,
               16, 12, 18, 14, 20, 15, 13, 17, 16,
               18, 22, 15, 20, 25, 17, 21, 19, 24,
               22, 19, 26, 21, 32, 20, 24, 18, 23,
               22, 18, 25, 20, 27, 16, 23, 19, 21,
               17, 13, 19, 9, 17, 19, 18, 26, 22]
YUNNAN_POST_B = [22, 26, 24, 29, 23, 27, 21, 25, 24,
                 23, 21, 25, 19, 22, 18, 20, 17, 19,
                 17, 15, 18, 14, 16, 13, 17, 15, 14,
                 14, 12, 15, 13, 16, 14, 12, 15, 14,
                 15, 17, 14, 18, 16, 19, 17, 20, 18,
                 19, 21, 18, 22, 20, 23, 21, 19, 22,
                 23, 21, 24, 20, 22, 25, 21, 23, 20,
                 21, 19, 22, 18, 20, 17, 19, 18, 16,
                 17, 19, 16, 18, 20, 19, 21, 22]

ZHEJIANG_PRE = [62, 85, 70, 66, 78, 60, 73, 68, 105, 64, 72, 58, 70, 66, 80, 62,
                74, 69, 60, 76, 64, 70, 55, 68, 45, 65]
ZHEJIANG_PRE_B = [70, 66, 75, 63, 72, 68, 77, 61, 69, 74, 65, 71, 67, 79, 64, 70,
                  73, 62, 68, 75, 66, 71, 58, 69, 64, 72]
ZHEJIANG_POST = [78, 85, 72, 92, 80, 88, 76, 82, 90,
                 74, 80, 69, 78, 72, 65, 77, 70, 68,
                 66, 73, 62, 71, 52, 68, 75, 64, 70,
                 60, 72, 66, 78, 54, 70, 85, 68, 74,
                 72, 80, 68, 86, 75, 62, 78, 84, 76,
                 82, 76, 90, 80, 110, 78, 85, 98, 84,
                 92, 84, 112, 88, 80, 95, 86, 100, 90,
                 88, 80, 95, 84, 106, 76, 90, 82, 86,
                 80, 74, 86, 78, 68, 84, 76, 96, 82]
ZHEJIANG_POST_B = [77, 82, 74, 79, 71, 78, 73, 76, 70,
                   72, 69, 75, 67, 71, 68, 73, 66, 70,
                   68, 71, 65, 70, 67, 72, 64, 69, 71,
                   70, 73, 68, 75, 71, 66, 74, 72, 77,
                   76, 73, 79, 75, 82, 78, 80, 77, 83,
                   84, 81, 87, 83, 89, 85, 82, 88, 86,
                   89, 86, 91, 85, 88, 84, 90, 87, 85,
                   86, 83, 88, 81, 84, 79, 85, 82, 80,
                   80, 83, 78, 82, 79, 84, 81, 83]

PROVINCES = [
    ("Guangdong", GUANGDONG_PRE, GUANGDONG_PRE_B, GUANGDONG_POST, GUANGDONG_POST_B),
    ("Anhui", ANHUI_PRE, ANHUI_PRE_B, ANHUI_POST, ANHUI_POST_B),
    ("Beijing", BEIJING_PRE, BEIJING_PRE_B, BEIJING_POST, BEIJING_POST_B),
    ("Fujian", FUJIAN_PRE, FUJIAN_PRE_B, FUJIAN_POST, FUJIAN_POST_B),
    ("Gansu", GANSU_PRE, GANSU_PRE_B, GANSU_POST, GANSU_POST_B),
    ("Guangxi", GUANGXI_PRE, GUANGXI_PRE_B, GUANGXI_POST, GUANGXI_POST_B),
    ("Guizhou", GUIZHOU_PRE, GUIZHOU_PRE_B, GUIZHOU_POST, GUIZHOU_POST_B),
    ("Hainan", HAINAN_PRE, HAINAN_PRE_B, HAINAN_POST, HAINAN_POST_B),
    ("Hebei", HEBEI_PRE, HEBEI_PRE_B, HEBEI_POST, HEBEI_POST_B),
    ("Heilongjiang", HEILONGJIANG_PRE, HEILONGJIANG_PRE_B, HEILONGJIANG_POST, HEILONGJIANG_POST_B),
    ("Henan", HENAN_PRE, HENAN_PRE_B, HENAN_POST, HENAN_POST_B),
    ("Hubei", HUBEI_PRE, HUBEI_PRE_B, HUBEI_POST, HUBEI_POST_B),
    ("Hunan", HUNAN_PRE, HUNAN_PRE_B, HUNAN_POST, HUNAN_POST_B),
    ("Inner Mongolia", INNER_MONGOLIA_PRE, INNER_MONGOLIA_PRE_B, INNER_MONGOLIA_POST, INNER_MONGOLIA_POST_B),
    ("Jiangsu", JIANGSU_PRE, JIANGSU_PRE_B, JIANGSU_POST, JIANGSU_POST_B),
    ("Jiangxi", JIANGXI_PRE, JIANGXI_PRE_B, JIANGXI_POST, JIANGXI_POST_B),
    ("Jilin", JILIN_PRE, JILIN_PRE_B, JILIN_POST, JILIN_POST_B),
    ("Liaoning", LIAONING_PRE, LIAONING_PRE_B, LIAONING_POST, LIAONING_POST_B),
    ("Ningxia", NINGXIA_PRE, NINGXIA_PRE_B, NINGXIA_POST, NINGXIA_POST_B),
    ("Qinghai", QINGHAI_PRE, QINGHAI_PRE_B, QINGHAI_POST, QINGHAI_POST_B),
    ("Shaanxi", SHAANXI_PRE, SHAANXI_PRE_B, SHAANXI_POST, SHAANXI_POST_B),
    ("Shandong", SHANDONG_PRE, SHANDONG_PRE_B, SHANDONG_POST, SHANDONG_POST_B),
    ("Shanghai", SHANGHAI_PRE, SHANGHAI_PRE_B, SHANGHAI_POST, SHANGHAI_POST_B),
    ("Shanxi", SHANXI_PRE, SHANXI_PRE_B, SHANXI_POST, SHANXI_POST_B),
    ("Sichuan", SICHUAN_PRE, SICHUAN_PRE_B, SICHUAN_POST, SICHUAN_POST_B),
    ("Tianjin", TIANJIN_PRE, TIANJIN_PRE_B, TIANJIN_POST, TIANJIN_POST_B),
    ("Tibet", TIBET_PRE, TIBET_PRE_B, TIBET_POST, TIBET_POST_B),
    ("Xinjiang", XINJIANG_PRE, XINJIANG_PRE_B, XINJIANG_POST, XINJIANG_POST_B),
    ("Yunnan", YUNNAN_PRE, YUNNAN_PRE_B, YUNNAN_POST, YUNNAN_POST_B),
    ("Zhejiang", ZHEJIANG_PRE, ZHEJIANG_PRE_B, ZHEJIANG_POST, ZHEJIANG_POST_B),
]

# Half-width of the 95% interval around each fit (before / mid-period after).
BAND_PRE = {
    "Guangdong": 5, "Anhui": 1.2, "Beijing": 4, "Fujian": 1.8, "Gansu": 0.9,
    "Guangxi": 1.5, "Guizhou": 1.3, "Hainan": 1.3, "Hebei": 1.2, "Heilongjiang": 1.2,
    "Henan": 1.8, "Hubei": 2, "Hunan": 2, "Inner Mongolia": 0.9, "Jiangsu": 3.5,
    "Jiangxi": 1.1, "Jilin": 1.1, "Liaoning": 1.6, "Ningxia": 2.0, "Qinghai": 2.2,
    "Shaanxi": 1.6, "Shandong": 2.8, "Shanghai": 4.5, "Shanxi": 1.1, "Sichuan": 3.5,
    "Tianjin": 1.6, "Tibet": 3.2, "Xinjiang": 1.8, "Yunnan": 1.6, "Zhejiang": 3,
}
BAND_POST = {
    "Guangdong": 4, "Anhui": 1.3, "Beijing": 3.5, "Fujian": 1.8, "Gansu": 1.2,
    "Guangxi": 1.5, "Guizhou": 1.6, "Hainan": 1.5, "Hebei": 1.3, "Heilongjiang": 1.2,
    "Henan": 1.8, "Hubei": 2, "Hunan": 1.8, "Inner Mongolia": 1.2, "Jiangsu": 3,
    "Jiangxi": 1.4, "Jilin": 1.2, "Liaoning": 1.5, "Ningxia": 1.8, "Qinghai": 2.6,
    "Shaanxi": 1.6, "Shandong": 2.5, "Shanghai": 4, "Shanxi": 1.3, "Sichuan": 3,
    "Tianjin": 1.5, "Tibet": 4, "Xinjiang": 1.7, "Yunnan": 1.6, "Zhejiang": 3,
}

Y_TICKS = {
    "Guangdong": [50, 100, 150, 200], "Anhui": [10, 20, 30, 40, 50],
    "Beijing": [100, 125, 150, 175], "Fujian": [20, 30, 40, 50],
    "Gansu": [0, 5, 10, 15, 20], "Guangxi": [0, 10, 20, 30, 40],
    "Guizhou": [5, 10, 15, 20], "Hainan": [5, 10, 15, 20, 25],
    "Hebei": [10, 20, 30, 40, 50], "Heilongjiang": [10, 20, 30],
    "Henan": [20, 30, 40, 50, 60, 70], "Hubei": [40, 60, 80],
    "Hunan": [20, 30, 40, 50, 60, 70], "Inner Mongolia": [0, 10, 20],
    "Jiangsu": [60, 80, 100, 120], "Jiangxi": [10, 20],
    "Jilin": [0, 10, 20, 30], "Liaoning": [30, 40, 50],
    "Ningxia": [0, 5, 10], "Qinghai": [-5, 0, 5, 10],
    "Shaanxi": [20, 30, 40], "Shandong": [40, 60, 80],
    "Shanghai": [100, 120, 140, 160, 180], "Shanxi": [10, 20, 30],
    "Sichuan": [0, 25, 50, 75, 100, 125], "Tianjin": [10, 15, 20, 25, 30, 35],
    "Tibet": [-5, 0, 5, 10], "Xinjiang": [-5, 0, 5, 10],
    "Yunnan": [0, 10, 20, 30], "Zhejiang": [60, 80, 100],
}
X_TICKS = [-2, 0, 2, 4]
ORDER = 6

sns.set_style("white")
plt.rcParams["font.family"] = ["Liberation Sans", "DejaVu Sans"]

W, H = 1244, 823
fig = plt.figure(figsize=(W / 100, H / 100), dpi=100)

COL_LEFT = [84, 320, 565, 801, 1046]
ROW_TOP = [42, 161.5, 281, 400.5, 520, 639.5]
PANEL_W, PANEL_H = 196, 84
TICK_GREY = "#4d4d4d"
BAND_FILL = "#e3e3e3"
FIT_BLUE = "#0000ff"


def series(values_a, days_a, values_b, days_b):
    """Merge the two alternate-day samples into month positions and counts."""
    ya = np.array(values_a, dtype=float)
    yb = np.array(values_b, dtype=float)
    x = np.r_[days_a[:ya.size], days_b[:yb.size]] / DAYS_PER_MONTH
    y = np.r_[ya, yb]
    order = np.argsort(x)
    return x[order], y[order]


for i, (name, pre_a, pre_b, post_a, post_b) in enumerate(PROVINCES):
    r, c = divmod(i, 5)
    ax = fig.add_axes([COL_LEFT[c] / W, 1 - (ROW_TOP[r] + PANEL_H) / H,
                       PANEL_W / W, PANEL_H / H])

    pre_x, pre_y = series(pre_a, PRE_DAYS, pre_b, PRE_DAYS_B)
    post_x, post_y = series(post_a, POST_DAYS, post_b, POST_DAYS_B)

    # level before the quarantine: flat mean of the observed days
    keep = ~np.isnan(pre_y)
    px, py = pre_x[keep], pre_y[keep]
    level = pd.DataFrame({"x": [px.min(), px.max()], "y": [py.mean(), py.mean()]})
    ax.fill_between(level["x"], level["y"] - BAND_PRE[name], level["y"] + BAND_PRE[name],
                    color=BAND_FILL, lw=0, zorder=1)

    # polynomial trend after the quarantine; its standard error shapes the band
    keep = ~np.isnan(post_y)
    qx, qy = post_x[keep], post_y[keep]
    coef, cov = np.polyfit(qx, qy, ORDER, cov=True)
    grid = np.linspace(qx.min(), qx.max(), 200)
    V = np.vander(grid, ORDER + 1)
    fit = V @ coef
    se = np.sqrt(np.einsum("ij,jk,ik->i", V, cov, V))
    half = BAND_POST[name] * se / np.median(se)
    ax.fill_between(grid, fit - half, fit + half, color=BAND_FILL, lw=0, zorder=1)

    # daily observations
    sns.scatterplot(x=np.r_[pre_x, post_x], y=np.r_[pre_y, post_y], ax=ax,
                    s=8, color="white", edgecolor="black", linewidth=0.55, zorder=2)

    ax.axvline(0, color="black", lw=0.8, zorder=2.5)

    sns.lineplot(data=level, x="x", y="y", color=FIT_BLUE, lw=4,
                 solid_capstyle="butt", ax=ax, zorder=3)
    sns.regplot(x=qx, y=qy, order=ORDER, scatter=False, ci=None,
                color=FIT_BLUE, line_kws={"lw": 4, "zorder": 3, "solid_capstyle": "butt"},
                ax=ax)

    ax.set_xlim(-2.17, 5.76)
    ticks = Y_TICKS[name]
    ax.set_yticks(ticks)
    lo, hi = ax.get_ylim()
    span = hi - lo
    ax.set_ylim(min(lo, ticks[0] - 0.04 * span), max(hi, ticks[-1] + 0.04 * span))

    ax.set_title(name, fontsize=20, color="#1a1a1a", pad=4)
    ax.set_xlabel("")
    ax.set_ylabel("")
    for side in ("top", "right"):
        ax.spines[side].set_visible(False)
    ax.spines["left"].set_color("black")
    ax.spines["left"].set_linewidth(0.9)
    ax.tick_params(axis="y", labelsize=13, labelcolor=TICK_GREY, color="#333333",
                   length=3, width=0.8, pad=1.5)
    if r == 5:
        ax.set_xticks(X_TICKS)
        ax.spines["bottom"].set_color("black")
        ax.spines["bottom"].set_linewidth(0.9)
        ax.tick_params(axis="x", labelsize=13, labelcolor=TICK_GREY, color="#333333",
                       length=3, width=0.8, pad=5)
    else:
        ax.spines["bottom"].set_visible(False)
        ax.tick_params(axis="x", bottom=False, labelbottom=False)
    legend = ax.get_legend()
    if legend is not None:
        legend.remove()

fig.text(30 / W, 1 - 397 / H, "Number of Unique Users Tweeting in Chinese",
         rotation=90, fontsize=24, fontweight="bold", ha="center", va="center")
fig.text(676 / W, 1 - 805 / H, "Months Since Wuhan Quarantine",
         fontsize=24, fontweight="bold", ha="center", va="center")

fig.savefig("out.png", dpi=100)
